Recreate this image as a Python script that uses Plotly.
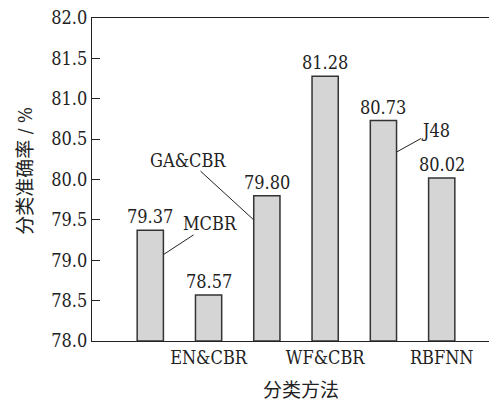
import plotly.graph_objects as go

categories = ["MCBR", "EN&CBR", "GA&CBR", "WF&CBR", "J48", "RBFNN"]
accuracy = [79.37, 78.57, 79.80, 81.28, 80.73, 80.02]
value_labels = ["79.37", "78.57", "79.80", "81.28", "80.73", "80.02"]
shown_ticks = ["EN&CBR", "WF&CBR", "RBFNN"]
y_ticks = [78.0, 78.5, 79.0, 79.5, 80.0, 80.5, 81.0, 81.5, 82.0]
y_ticktext = ["78.0", "78.5", "79.0", "79.5", "80.0", "80.5", "81.0", "81.5", "82.0"]
x_title = "分类方法"
y_title = "分类准确率 / %"
# callout labels for categories without tick labels: (text, category index, side, anchor y, text x, text y)
callouts = [
    ("MCBR", 0, +1, 79.07, 1.03, 79.45),
    ("GA&CBR", 2, -1, 79.50, 0.655, 80.24),
    ("J48", 4, +1, 80.34, 4.90, 80.61),
]

FONT = "DejaVu Serif Condensed, DejaVu Serif"
CJK = "DejaVu Serif Condensed, DejaVu Serif, Noto Sans CJK SC"
FS = 18
BAR_W = 0.45

fig = go.Figure()
fig.add_trace(go.Bar(
    x=list(range(len(categories))),
    y=[v - 78.0 for v in accuracy],
    base=78.0,
    width=BAR_W,
    marker=dict(color="#d5d5d5", line=dict(color="#333333", width=1.5)),
    hoverinfo="skip",
))

annotations = []
for i, (v, t) in enumerate(zip(accuracy, value_labels)):
    annotations.append(dict(x=i, y=v, text=t, showarrow=False, xref="x", yref="y",
                            yanchor="bottom", yshift=1,
                            font=dict(family=FONT, size=FS, color="#222")))
for name, idx, side, ay_pt, tx, ty in callouts:
    annotations.append(dict(x=idx + side * BAR_W / 2, y=ay_pt, ax=tx, ay=ty,
                            axref="x", ayref="y", xref="x", yref="y",
                            text=name, showarrow=True, arrowhead=0, arrowwidth=1,
                            arrowcolor="#222", standoff=0, startstandoff=0,
                            borderpad=0,
                            font=dict(family=FONT, size=FS, color="#222")))
annotations.append(dict(text=x_title, xref="paper", yref="paper", x=0.512, y=-0.152,
                        xanchor="center", yanchor="middle",
                        showarrow=False, font=dict(family=CJK, size=19, color="#222")))
annotations.append(dict(text=y_title, xref="paper", yref="paper", x=-0.165, y=0.526,
                        xanchor="center", yanchor="middle",
                        textangle=-90, showarrow=False,
                        font=dict(family=CJK, size=19, color="#222")))

fig.update_layout(
    width=497, height=403,
    margin=dict(l=84, r=5, t=10, b=70),
    paper_bgcolor="white", plot_bgcolor="white",
    font=dict(family=FONT, size=FS, color="#222"),
    showlegend=False,
    annotations=annotations,
    xaxis=dict(
        range=[-1, 6], automargin=False,
        tickmode="array",
        tickvals=[categories.index(c) for c in shown_ticks],
        ticktext=shown_ticks,
        showline=True, linecolor="#222", linewidth=1.2, mirror=True,
        ticks="", showgrid=False, zeroline=False,
        tickfont=dict(family=FONT, size=FS, color="#222"),
    ),
    yaxis=dict(
        range=[78.0, 82.0], automargin=False, ticklabeloverflow="allow",
        tickmode="array", tickvals=y_ticks, ticktext=y_ticktext,
        showline=True, linecolor="#222", linewidth=1.2, mirror=True,
        ticks="inside", ticklen=8, tickwidth=1.2, tickcolor="#222",
        showgrid=False, zeroline=False,
        tickfont=dict(family=FONT, size=FS, color="#222"),
    ),
    yaxis2=dict(
        range=[78.0, 82.0], overlaying="y", side="right", automargin=False,
        tickmode="array", tickvals=y_ticks,
        showline=False, showticklabels=False,
        ticks="inside", ticklen=8, tickwidth=1.2, tickcolor="#222",
        showgrid=False, zeroline=False,
    ),
)

fig.write_html("out.html")
